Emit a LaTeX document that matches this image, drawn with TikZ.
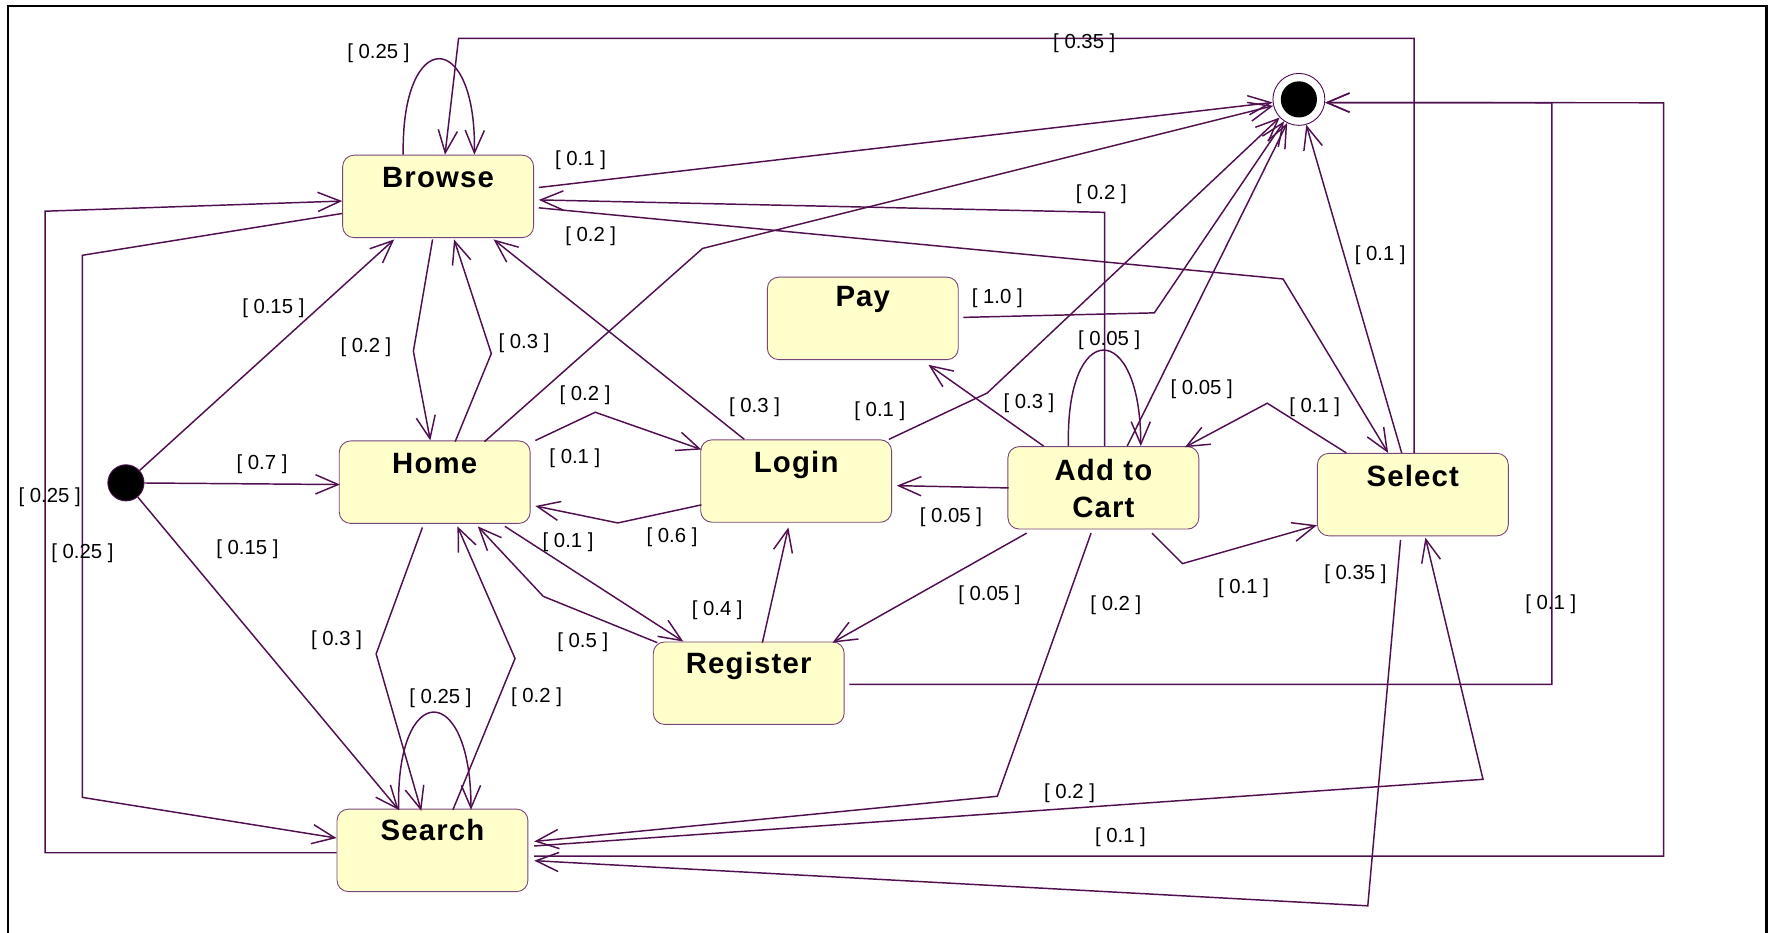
\documentclass[tikz,border=0pt]{standalone}
\usepackage{fontspec}
\setmainfont{Liberation Sans}
\newfontfamily\statefont{Liberation Sans}[LetterSpace=4]
\usetikzlibrary{arrows.meta,calc}
\definecolor{edgec}{RGB}{80,16,80}
\definecolor{boxc}{RGB}{120,70,120}
\definecolor{boxfill}{RGB}{255,255,204}
\tikzset{
 stbox/.style={draw=boxc, line width=0.8pt, fill=boxfill, rounded corners=10pt, minimum width=169pt, minimum height=73pt, inner sep=0pt, anchor=north west, text height=29pt, text depth=44pt, font=\statefont\bfseries\fontsize{26}{32.6}\selectfont},
 tr/.style={draw=edgec, line width=1.3pt, -{Straight Barb[length=20pt,width=17pt]}},
 lbl/.style={font=\fontsize{18}{20}\selectfont, inner sep=0pt, text=black},
}
\begin{document}
\begin{tikzpicture}[x=1pt,y=-1pt]
\useasboundingbox (0,0) rectangle (1568,826);
\draw[line width=2pt] (7,5) rectangle (1564,845);

% states
\node[stbox] (browse) at (303,137) {Browse};
\node[stbox] (home) at (300,390) {Home};
\node[stbox] (login) at (620,389) {Login};
\node[stbox, text height=26pt, text depth=47pt] (pay) at (679,245) {Pay};
\node[stbox, text height=30pt, text depth=43pt] (cart) at (892,395) {\begin{tabular}[t]{@{}c@{}}Add to\\Cart\end{tabular}};
\node[stbox] (select) at (1166,401) {Select};
\node[stbox, text height=28pt, text depth=45pt] (register) at (578,568) {Register};
\node[stbox, text height=28pt, text depth=45pt] (search) at (298,716) {Search};
\node[circle, fill=black, draw=edgec, line width=0.8pt, minimum size=32pt, inner sep=0pt] (init) at (111.5,427.5) {};
\node[circle, draw=edgec, line width=0.8pt, fill=white, minimum size=46pt, inner sep=0pt, path picture={\fill[black] (path picture bounding box.center) circle (16pt);}] (final) at (1150,88) {};

% transitions
\draw[tr] ($(browse.north west)+(54,0)$) .. controls ($(browse.north west)+(52,-113)$) and ($(browse.north west)+(119,-113)$) .. ($(browse.north west)+(117,0)$);
\draw[tr] ($(select.north west)+(86,0)$) -- (1252,34) -- (406,34) -- ($(browse.north west)+(91,0)$);
\draw[tr] ($(browse.north west)+(174,29)$) -- (final);
\draw[tr] ($(cart.north west)+(86,0)$) -- (978,188) -- ($(browse.north west)+(174,40)$);
\draw[tr] ($(browse.north west)+(174,47)$) -- (1136,247) -- ($(select.north west)+(63,0)$);
\draw[tr] ($(select.north west)+(75,0)$) -- (final);
\draw[tr] ($(search.north west)+(175,42)$) -- (1473,758) -- (1473,91) -- (final.-7);
\draw[tr] ($(register.north west)+(174,38)$) -- (1374,606) -- (1374,91) -- (final.-7);
\draw[tr] ($(search.north west)+(175,33)$) -- (1313,690) -- ($(select.north west)+(96,75)$);
\draw[tr] ($(select.north west)+(74,77)$) -- (1211,802) -- ($(search.north west)+(175,46)$);
\draw[tr] ($(cart.north west)+(74,77)$) -- (883,705) -- ($(search.north west)+(175,29)$);
\draw[tr] ($(search.north west)+(0,39)$) -- (40,755) -- (40,187) -- ($(browse.north west)+(0,41)$);
\draw[tr] ($(browse.north west)+(0,52)$) -- (73,226) -- (73,706) -- ($(search.north west)+(0,26)$);
\draw[tr] (init) -- ($(browse.north west)+(46,75)$);
\draw[tr] (init) -- ($(home.north west)+(1,39)$);
\draw[tr] (init) -- ($(search.north west)+(55,1)$);
\draw[tr] ($(browse.north west)+(80,75)$) -- (366,311) -- ($(home.north west)+(81,0)$);
\draw[tr] ($(home.north west)+(103,1)$) -- (435,313) -- ($(browse.north west)+(99,75)$);
\draw[tr] ($(login.north west)+(39,0)$) -- ($(browse.north west)+(134,75)$);
\draw[tr] ($(home.north west)+(174,0)$) -- (527,365) -- ($(login.north west)+(1,9)$);
\draw[tr] ($(login.north west)+(1,58)$) -- (547,463) -- ($(home.north west)+(174,58)$);
\draw[tr] ($(home.north west)+(129,1)$) -- (622,220) -- (final);
\draw[tr] ($(login.north west)+(167,0)$) -- (874,348) -- (final);
\draw[tr] ($(pay.north west)+(174,36)$) -- (1022,277) -- (final);
\draw[tr] ($(cart.north west)+(106,0)$) -- (final);
\draw[tr] ($(cart.north west)+(54,0)$) .. controls ($(cart.north west)+(51,-113)$) and ($(cart.north west)+(118,-113)$) .. ($(cart.north west)+(118,0)$);
\draw[tr] ($(cart.north west)+(32,0)$) -- ($(pay.north west)+(143,78)$);
\draw[tr] ($(cart.north west)+(1,37)$) -- ($(login.north west)+(174,41)$);
\draw[tr] ($(cart.north west)+(17,77)$) -- ($(register.north west)+(159,1)$);
\draw[tr] ($(cart.north west)+(128,77)$) -- (1047,499) -- ($(select.north west)+(0,64)$);
\draw[tr] ($(select.north west)+(26,0)$) -- (1122,357) -- ($(cart.north west)+(157,1)$);
\draw[tr] ($(register.north west)+(97,1)$) -- ($(login.north west)+(78,78)$);
\draw[tr] ($(home.north west)+(147,76)$) -- ($(register.north west)+(27,0)$);
\draw[tr] ($(register.north west)+(4,1)$) -- (481,528) -- ($(home.north west)+(123,76)$);
\draw[tr] ($(home.north west)+(74,77)$) -- (333,579) -- ($(search.north west)+(75,2)$);
\draw[tr] ($(search.north west)+(103,1)$) -- (456,583) -- ($(home.north west)+(105,76)$);
\draw[tr] ($(search.north west)+(55,1)$) .. controls ($(search.north west)+(52,-114)$) and ($(search.north west)+(119,-114)$) .. ($(search.north west)+(119,1)$);

% labels
\node[lbl] (l1) at (335,47) {[ 0.25 ]};
\node[lbl] (l2) at (960,38) {[ 0.35 ]};
\node[lbl] (l3) at (514,142) {[ 0.1 ]};
\node[lbl] (l4) at (975,172) {[ 0.2 ]};
\node[lbl] (l5) at (523,209) {[ 0.2 ]};
\node[lbl] (l6) at (1222,226) {[ 0.1 ]};
\node[lbl] (l7) at (992,741) {[ 0.1 ]};
\node[lbl] (l8) at (1373,535) {[ 0.1 ]};
\node[lbl] (l9) at (947,702) {[ 0.2 ]};
\node[lbl] (l10) at (1200,508) {[ 0.35 ]};
\node[lbl] (l11) at (988,536) {[ 0.2 ]};
\node[lbl] (l12) at (44,440) {[ 0.25 ]};
\node[lbl] (l13) at (73,490) {[ 0.25 ]};
\node[lbl] (l14) at (242,273) {[ 0.15 ]};
\node[lbl] (l15) at (232,411) {[ 0.7 ]};
\node[lbl] (l16) at (219,486) {[ 0.15 ]};
\node[lbl] (l17) at (324,307) {[ 0.2 ]};
\node[lbl] (l18) at (464,304) {[ 0.3 ]};
\node[lbl] (l19) at (668,361) {[ 0.3 ]};
\node[lbl] (l20) at (518,350) {[ 0.2 ]};
\node[lbl] (l21) at (595,476) {[ 0.6 ]};
\node[lbl] (l22) at (509,406) {[ 0.1 ]};
\node[lbl] (l23) at (779,364) {[ 0.1 ]};
\node[lbl] (l24) at (883,264) {[ 1.0 ]};
\node[lbl] (l25) at (1064,345) {[ 0.05 ]};
\node[lbl] (l26) at (982,301) {[ 0.05 ]};
\node[lbl] (l27) at (911,357) {[ 0.3 ]};
\node[lbl] (l28) at (842,458) {[ 0.05 ]};
\node[lbl] (l29) at (876,527) {[ 0.05 ]};
\node[lbl] (l30) at (1101,521) {[ 0.1 ]};
\node[lbl] (l31) at (1164,361) {[ 0.1 ]};
\node[lbl] (l32) at (635,540) {[ 0.4 ]};
\node[lbl] (l33) at (503,480) {[ 0.1 ]};
\node[lbl] (l34) at (516,569) {[ 0.5 ]};
\node[lbl] (l35) at (298,567) {[ 0.3 ]};
\node[lbl] (l36) at (475,617) {[ 0.2 ]};
\node[lbl] (l37) at (390,618) {[ 0.25 ]};
\end{tikzpicture}
\end{document}
